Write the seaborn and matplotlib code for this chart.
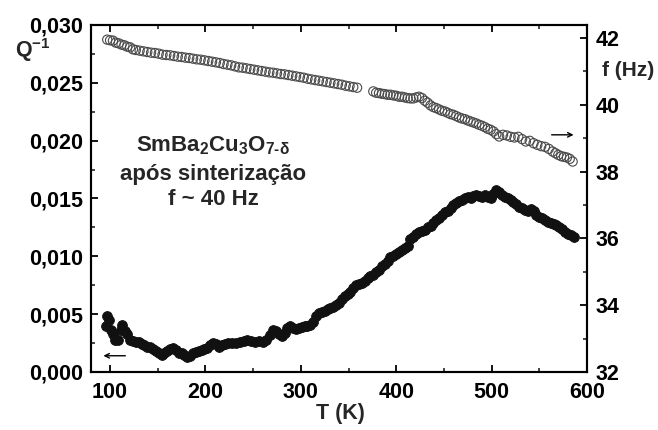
import matplotlib
matplotlib.use("Agg")
import matplotlib.pyplot as plt
import seaborn as sns
from matplotlib.ticker import MultipleLocator, FuncFormatter

# Internal friction Q^-1 (left axis) versus temperature
temp_q = [96, 97, 99, 101, 103, 105, 108, 111, 113, 116, 118, 121, 124, 127, 130,
          133, 136, 139, 142, 145, 148, 151, 154, 157, 160, 163, 166, 169, 172, 175,
          178, 181, 184, 187, 190, 193, 196, 199, 202, 205, 208, 211, 214, 217, 220,
          224, 228, 232, 236, 240, 244, 248, 252, 256, 260, 264, 268, 271, 274, 277,
          280, 283, 286, 289, 292, 295, 298, 301, 304, 307, 310, 313, 316, 319, 322,
          325, 328, 331, 334, 337, 340, 343, 346, 349, 352, 355, 358, 361, 364, 367,
          370, 373, 376, 379, 382, 385, 388, 391, 394, 397, 400, 403, 406, 409, 412,
          415, 418, 421, 424, 427, 430, 433, 436, 439, 442, 445, 448, 451, 454, 457,
          460, 463, 466, 469, 472, 475, 478, 481, 484, 487, 490, 493, 496, 499, 502,
          505, 508, 511, 514, 517, 520, 523, 526, 529, 532, 535, 538, 541, 544, 547,
          550, 553, 556, 559, 562, 565, 568, 571, 574, 577, 580, 583, 586]
q_inv_milli = [4.0, 4.8, 4.5, 3.6, 3.3, 2.8, 2.8, 3.6, 4.1, 3.5, 3.3, 2.8, 2.7, 2.6, 2.6,
               2.4, 2.3, 2.2, 2.2, 2.0, 1.8, 1.6, 1.5, 1.6, 1.8, 2.0, 2.1, 1.9, 1.6, 1.6,
               1.5, 1.3, 1.4, 1.6, 1.7, 1.8, 1.9, 2.0, 2.1, 2.3, 2.5, 2.4, 2.2, 2.3, 2.4,
               2.5, 2.5, 2.5, 2.6, 2.7, 2.8, 2.7, 2.6, 2.7, 2.6, 2.8, 3.2, 3.6, 3.5, 3.3,
               3.1, 3.4, 3.8, 4.0, 3.8, 3.7, 3.8, 3.9, 4.0, 4.0, 4.1, 4.3, 4.8, 5.1, 5.2,
               5.3, 5.4, 5.5, 5.6, 5.8, 6.0, 6.3, 6.6, 6.7, 6.9, 7.3, 7.5, 7.6, 7.7, 7.9,
               8.1, 8.3, 8.4, 8.6, 8.8, 9.2, 9.3, 9.6, 9.9, 10.0, 10.2, 10.4, 10.5, 10.7, 10.9,
               11.5, 11.7, 11.9, 12.1, 12.2, 12.3, 12.5, 12.6, 12.9, 13.1, 13.3, 13.6, 13.8, 13.9, 14.2,
               14.4, 14.6, 14.8, 14.9, 15.0, 15.1, 15.0, 15.2, 15.3, 15.2, 15.1, 15.3, 15.1, 15.0, 15.4,
               15.7, 15.6, 15.3, 15.1, 15.0, 14.9, 14.7, 14.5, 14.3, 14.2, 14.0, 13.9, 14.1, 13.9, 13.6,
               13.4, 13.3, 13.1, 13.0, 12.9, 12.8, 12.7, 12.5, 12.4, 12.1, 11.9, 11.8, 11.7]
q_inv = [v / 1000.0 for v in q_inv_milli]

# Resonance frequency f (right axis) versus temperature
temp_f = [97, 100, 103, 106, 109, 112, 115, 118, 121, 124, 127, 131, 135, 139, 143,
          147, 151, 155, 159, 163, 167, 171, 175, 179, 183, 187, 191, 195, 199, 203,
          207, 211, 215, 219, 223, 227, 231, 235, 239, 243, 247, 251, 255, 259, 263,
          267, 271, 275, 279, 283, 287, 291, 295, 299, 303, 307, 311, 315, 319, 323,
          327, 331, 335, 339, 343, 347, 351, 355, 359,
          376, 379, 382, 385, 388, 391, 394, 397, 400, 403, 406, 409, 412, 415, 418,
          421, 424, 427, 430, 433, 436, 439, 442, 445, 448, 451, 454, 457, 460, 463,
          466, 469, 472, 475, 478, 481, 484, 487, 490, 493, 496, 499, 502, 505, 508,
          512, 516, 520, 524, 528, 532, 536, 540, 544, 548, 552, 556, 560, 564, 567,
          570, 573, 576, 579, 582, 585]
freq = [41.95, 41.93, 41.92, 41.86, 41.84, 41.80, 41.78, 41.74, 41.72, 41.66, 41.64, 41.62, 41.60, 41.58, 41.56,
        41.55, 41.53, 41.50, 41.49, 41.48, 41.46, 41.44, 41.43, 41.41, 41.40, 41.38, 41.36, 41.35, 41.33, 41.31,
        41.29, 41.27, 41.25, 41.22, 41.20, 41.18, 41.15, 41.12, 41.11, 41.09, 41.07, 41.05, 41.03, 41.01, 40.99,
        40.97, 40.96, 40.94, 40.92, 40.91, 40.89, 40.87, 40.85, 40.83, 40.81, 40.78, 40.76, 40.74, 40.72, 40.70,
        40.68, 40.66, 40.64, 40.62, 40.60, 40.57, 40.55, 40.53, 40.51,
        40.40, 40.36, 40.35, 40.33, 40.32, 40.30, 40.30, 40.28, 40.27, 40.24, 40.24, 40.22, 40.20, 40.19, 40.19,
        40.22, 40.24, 40.20, 40.12, 40.06, 39.98, 39.93, 39.90, 39.86, 39.82, 39.80, 39.76, 39.72, 39.70, 39.66,
        39.62, 39.59, 39.57, 39.53, 39.50, 39.47, 39.44, 39.40, 39.37, 39.33, 39.28, 39.25, 39.20, 39.12, 39.05,
        39.10, 39.08, 39.04, 39.02, 39.04, 38.97, 38.90, 38.92, 38.85, 38.80, 38.76, 38.74, 38.68, 38.60, 38.55,
        38.50, 38.46, 38.44, 38.42, 38.38, 38.30]

sns.set_theme(style="ticks")
FONT = "Liberation Sans"
plt.rcParams["font.family"] = [FONT, "DejaVu Sans"]
plt.rcParams["font.weight"] = "bold"
plt.rcParams["mathtext.fontset"] = "custom"
plt.rcParams["mathtext.rm"] = FONT + ":bold"
plt.rcParams["mathtext.it"] = FONT + ":bold"
plt.rcParams["mathtext.bf"] = FONT + ":bold"
plt.rcParams["mathtext.default"] = "rm"

fig = plt.figure(figsize=(6.58, 4.30), dpi=100)
ax = fig.add_axes([0.1383, 0.135, 0.892 - 0.1383, 0.942 - 0.135])
ax2 = ax.twinx()

sns.scatterplot(x=temp_q, y=q_inv, ax=ax, color="#111111", edgecolor="#111111",
                s=50, linewidth=0.6, marker="o", zorder=3)
sns.scatterplot(x=temp_f, y=freq, ax=ax2, facecolor="none", edgecolor="#4a4a4a",
                s=44, linewidth=0.8, marker="o", zorder=3)

ax.set_xlim(80, 600)
ax.set_ylim(0.0, 0.030)
ax2.set_ylim(32, 42.39)

ax.xaxis.set_major_locator(MultipleLocator(100))
ax.xaxis.set_minor_locator(MultipleLocator(50))
ax.yaxis.set_major_locator(MultipleLocator(0.005))
ax.yaxis.set_minor_locator(MultipleLocator(0.0025))
ax2.yaxis.set_major_locator(MultipleLocator(2))
ax2.yaxis.set_minor_locator(MultipleLocator(1))
ax.yaxis.set_major_formatter(FuncFormatter(lambda v, p: f"{v:.3f}".replace(".", ",")))

for a in (ax, ax2):
    for sp in a.spines.values():
        sp.set_linewidth(1.5)
        sp.set_color("black")
        sp.set_visible(True)

ax.tick_params(axis="both", which="major", direction="in", length=5, width=1.3,
               labelsize=15.5, colors="black", top=True, right=False, pad=6)
ax.tick_params(axis="both", which="minor", direction="in", length=3, width=1.2,
               top=True, right=False)
ax.tick_params(axis="x", which="major", pad=7)
ax2.tick_params(axis="y", which="major", direction="in", length=5, width=1.3,
                labelsize=15.5, colors="black", pad=6)
ax2.tick_params(axis="y", which="minor", direction="in", length=3, width=1.2)
for lbl in ax.get_xticklabels() + ax.get_yticklabels() + ax2.get_yticklabels():
    lbl.set_fontweight("bold")

ax.set_xlabel("")
ax.set_ylabel("")
ax2.set_ylabel("")

fig.text(340 / 658, 1 - 414 / 430, "T (K)", ha="center", va="center",
         fontsize=15.5, fontweight="bold")
fig.text(15 / 658, 1 - 50 / 430, r"Q$^{\mathregular{-1}}$", ha="left", va="center",
         fontsize=15.5, fontweight="bold")
fig.text(654 / 658, 1 - 70 / 430, "f (Hz)", ha="right", va="center",
         fontsize=15, fontweight="bold")

# Sample description
tx = ax.transAxes
cx = (213 - 91) / (587 - 91)
ax.text(cx, (372 - 146) / 347, r"SmBa$_2$Cu$_3$O$_{7\text{-}\delta}$", transform=tx,
        ha="center", va="center", fontsize=16, fontweight="bold")
ax.text(cx, (372 - 175) / 347, "após sinterização", transform=tx,
        ha="center", va="center", fontsize=16, fontweight="bold")
ax.text(cx, (372 - 200) / 347, "f ~ 40 Hz", transform=tx,
        ha="center", va="center", fontsize=16, fontweight="bold")

# Arrows pointing to the axis each data set belongs to
ax.annotate("", xy=(93, 0.0014), xytext=(116, 0.0014),
            arrowprops=dict(arrowstyle="->", color="black", lw=1.0,
                            mutation_scale=8, shrinkA=0, shrinkB=0))
ax2.annotate("", xy=(586, 39.1), xytext=(563, 39.1),
             arrowprops=dict(arrowstyle="->", color="black", lw=1.0,
                             mutation_scale=8, shrinkA=0, shrinkB=0))

fig.savefig("out.png", dpi=100, facecolor="white")
